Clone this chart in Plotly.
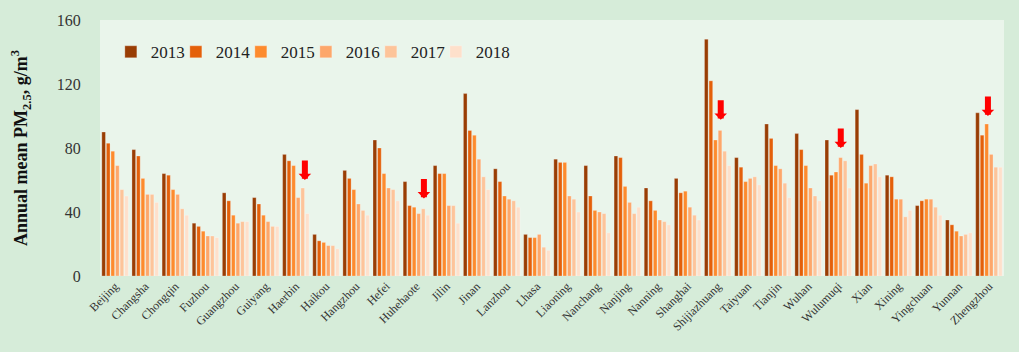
import plotly.graph_objects as go

cities = ["Beijing", "Changsha", "Chongqin", "Fuzhou", "Guangzhou", "Guiyang", "Haerbin",
          "Haikou", "Hangzhou", "Hefei", "Huhehaote", "Jilin", "Jinan", "Lanzhou", "Lhasa",
          "Liaoning", "Nanchang", "Nanjing", "Nanning", "Shanghai", "Shijiazhuang", "Taiyuan",
          "Tianjin", "Wuhan", "Wulumuqi", "Xian", "Xining", "Yingchuan", "Yunnan", "Zhengzhou"]

years = ["2013", "2014", "2015", "2016", "2017", "2018"]

pm_2013 = [90, 79, 64, 33, 52, 49, 76, 26, 66, 85, 59, 69, 114, 67, 26, 73, 69, 75, 55, 61, 148, 74, 95, 89, 85, 104, 63, 44, 35, 102]
pm_2014 = [83, 75, 63, 31, 47, 45, 72, 22, 61, 80, 44, 64, 91, 59, 24, 71, 50, 74, 47, 52, 122, 68, 86, 79, 63, 76, 62, 47, 32, 88]
pm_2015 = [78, 61, 54, 28, 38, 38, 69, 21, 54, 64, 43, 64, 88, 50, 24, 71, 41, 56, 41, 53, 85, 59, 69, 69, 65, 58, 48, 48, 28, 95]
pm_2016 = [69, 51, 51, 25, 33, 34, 49, 19, 45, 55, 39, 44, 73, 48, 26, 50, 40, 46, 35, 43, 91, 61, 67, 55, 74, 69, 48, 48, 25, 76]
pm_2017 = [54, 51, 42, 25, 34, 31, 55, 19, 41, 54, 42, 44, 62, 47, 18, 48, 39, 39, 34, 38, 78, 62, 58, 50, 72, 70, 37, 43, 26, 68]
pm_2018 = [50, 46, 38, 24, 34, 31, 39, 17, 38, 47, 38, 33, 54, 43, 16, 40, 27, 43, 32, 35, 69, 57, 49, 47, 55, 62, 41, 38, 27, 68]

series = [pm_2013, pm_2014, pm_2015, pm_2016, pm_2017, pm_2018]
colors = ["#993d04", "#e4600a", "#fd8b2e", "#fda76b", "#fdc49a", "#fee0cb"]

# highlighted cities (red arrows) and the value the arrow points at
arrow_cities = ["Haerbin", "Huhehaote", "Shijiazhuang", "Wulumuqi", "Zhengzhou"]
arrow_values = [60, 48.5, 97.7, 80, 100]
arrow_shift_px = [9, 7.5, 3, 2.5, -1]

FONT = "Liberation Serif, Times New Roman, serif"

fig = go.Figure()
for name, vals, col in zip(years, series, colors):
    fig.add_trace(go.Bar(
        x=cities, y=vals, name=name,
        marker=dict(color=col, line=dict(color="rgba(255,255,255,0.45)", width=0.6)),
    ))

# invisible spacer entry so that the last legend label is not clipped
fig.add_trace(go.Scatter(
    x=[None], y=[None], mode="markers", name=" ", hoverinfo="skip",
    marker=dict(color="rgba(0,0,0,0)", size=1),
))

for c, v, s in zip(arrow_cities, arrow_values, arrow_shift_px):
    fig.add_annotation(
        x=c, y=v, xref="x", yref="y", text="", showarrow=True,
        ax=0, ay=-21, xshift=s,
        arrowhead=1, arrowsize=0.35, arrowwidth=6, arrowcolor="#ff0000",
    )

fig.update_layout(
    width=1019, height=352,
    margin=dict(l=100, r=15, t=14, b=76),
    paper_bgcolor="#d6ecd9",
    plot_bgcolor="#eaf5eb",
    barmode="group", bargap=0.09, bargroupgap=0.2,
    font=dict(family=FONT, color="#333333"),
    showlegend=True,
    legend=dict(
        orientation="h", x=0.012, y=0.874, xanchor="left", yanchor="middle",
        bgcolor="rgba(0,0,0,0)", font=dict(family=FONT, size=17, color="#222222"),
        entrywidth=20, entrywidthmode="pixels", itemwidth=30,
    ),
    xaxis=dict(
        tickangle=-45, tickfont=dict(family=FONT, size=12, color="#333333"),
        showgrid=False, showline=False, ticks="",
    ),
    yaxis=dict(
        range=[0, 160], dtick=40, showgrid=False, zeroline=False, showline=False,
        ticks="outside", ticklen=15, tickcolor="rgba(0,0,0,0)",
        tickfont=dict(family=FONT, size=16, color="#333333"),
        title=dict(text="Annual mean PM<sub>2.5</sub>, g/m<sup>3</sup>",
                   font=dict(family=FONT, size=18, color="#111111", weight="bold"),
                   standoff=24),
    ),
)

fig.write_html("out.html")
